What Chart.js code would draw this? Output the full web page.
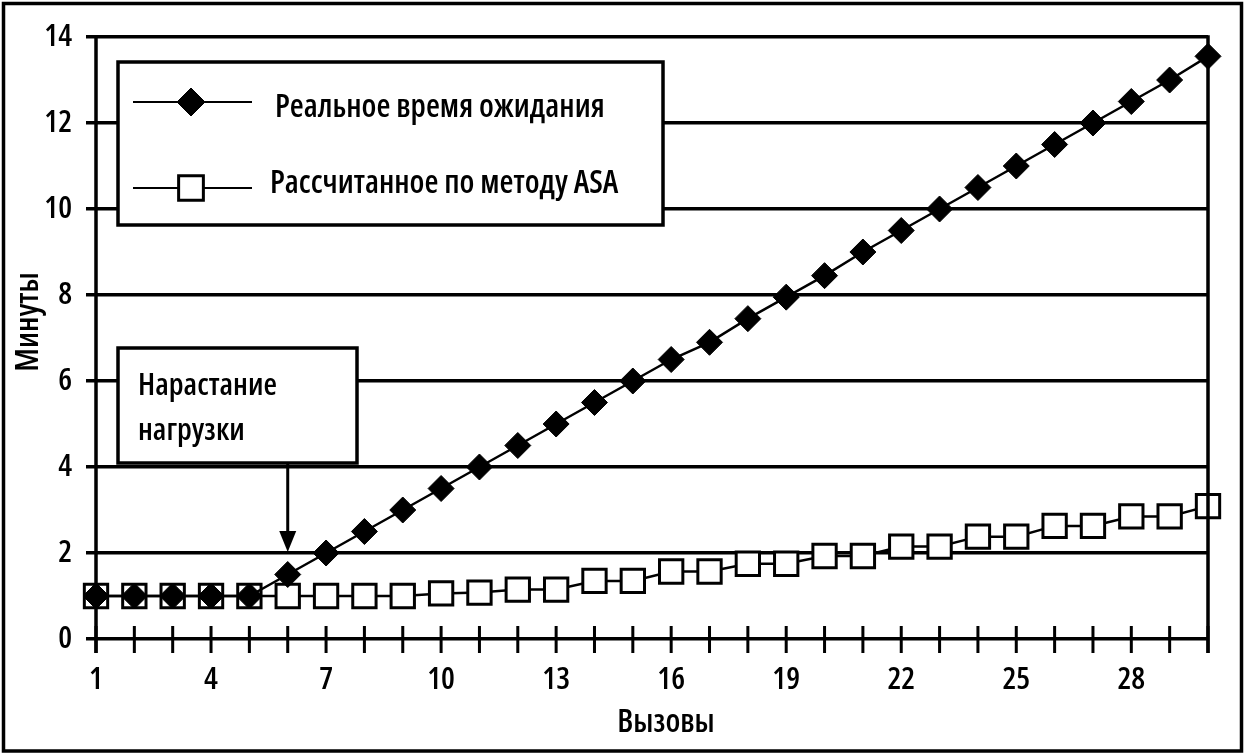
<!DOCTYPE html>
<html>
<head>
<meta charset="utf-8">
<script src="https://cdn.jsdelivr.net/npm/chart.js@4.4.0/dist/chart.umd.min.js"></script>
<style>
  html, body { margin: 0; padding: 0; background: #fff; }
  #wrap { width: 1247px; height: 755px; }
</style>
</head>
<body>
<div id="wrap"><canvas id="waitChart"></canvas></div>
<script>
// ===== Данные =====
const calls = ["1","2","3","4","5","6","7","8","9","10","11","12","13","14","15",
  "16","17","18","19","20","21","22","23","24","25","26","27","28","29","30"];
const realWait = [1, 1, 1, 1, 1, 1.5, 2, 2.5, 3, 3.5, 4, 4.5, 5, 5.5, 6,
  6.5, 6.9, 7.45, 7.95, 8.45, 9, 9.5, 10, 10.5, 11, 11.5, 12, 12.5, 13, 13.55];
const asaWait = [1, 1, 1, 1, 1, 1, 1, 1, 1, 1.06, 1.08, 1.15, 1.15, 1.35, 1.35,
  1.57, 1.57, 1.75, 1.75, 1.93, 1.93, 2.15, 2.15, 2.38, 2.38, 2.63, 2.63, 2.85, 2.85, 3.09];
const yTicks = [0, 2, 4, 6, 8, 10, 12, 14];
const xLabelEvery = 3;

const seriesNames = ["Реальное время ожидания", "Рассчитанное по методу ASA"];
const noteLines = ["Нарастание", "нагрузки"];
const xTitle = "Вызовы";
const yTitle = "Минуты";

const FONT = "'Open Sans', 'Noto Sans', 'DejaVu Sans Condensed', sans-serif";
const WEIGHT = "600 condensed";
const font = (size) => WEIGHT + " " + size + "px " + FONT;

// ===== Рамка, оси, подписи, легенда, выноска =====
const overlay = {
  id: "overlay",
  afterDatasetsDraw(chart) {
    const { ctx, chartArea: a, scales: { x, y } } = chart;
    ctx.save();
    ctx.strokeStyle = "#000";
    ctx.fillStyle = "#000";

    // левая и правая оси
    ctx.lineWidth = 3.5;
    ctx.beginPath();
    ctx.moveTo(a.left, a.top - 1.75);
    ctx.lineTo(a.left, a.bottom + 14);
    ctx.moveTo(a.right, a.top - 1.75);
    ctx.lineTo(a.right, a.bottom + 14);
    ctx.stroke();

    // засечки по X
    ctx.lineWidth = 3;
    ctx.beginPath();
    calls.forEach((c, i) => {
      const px = x.getPixelForValue(i);
      ctx.moveTo(px, a.bottom - 13);
      ctx.lineTo(px, a.bottom + 14);
    });
    ctx.stroke();

    ctx.textBaseline = "alphabetic";

    // названия осей
    ctx.font = font(32);
    ctx.textAlign = "center";
    ctx.fillText(xTitle, 666, 732);
    ctx.save();
    ctx.translate(38, 322);
    ctx.rotate(-Math.PI / 2);
    ctx.fillText(yTitle, 0, 0);
    ctx.restore();

    // легенда
    ctx.textAlign = "left";
    const lg = { x: 118, y: 62, w: 545, h: 163 };
    ctx.fillStyle = "#fff";
    ctx.fillRect(lg.x, lg.y, lg.w, lg.h);
    ctx.lineWidth = 3.5;
    ctx.strokeRect(lg.x, lg.y, lg.w, lg.h);
    const rows = [102, 188];
    const textBase = [117, 193];
    ctx.font = font(32);
    chart.data.datasets.forEach((ds, i) => {
      const ry = rows[i];
      ctx.lineWidth = 2;
      ctx.strokeStyle = "#000";
      ctx.beginPath();
      ctx.moveTo(133, ry);
      ctx.lineTo(252, ry);
      ctx.stroke();
      ctx.fillStyle = ds.pointBackgroundColor;
      ctx.strokeStyle = "#000";
      ctx.lineWidth = ds.pointBorderWidth;
      Chart.helpers.drawPoint(ctx, {
        pointStyle: ds.pointStyle,
        radius: ds.pointRadius + 1,
        borderWidth: ds.pointBorderWidth
      }, 191, ry);
      ctx.fillStyle = "#000";
      ctx.fillText(ds.label, i === 0 ? 275 : 270, textBase[i]);
    });

    // выноска «Нарастание нагрузки»
    const nb = { x: 118, y: 348, w: 239, h: 115 };
    ctx.fillStyle = "#fff";
    ctx.fillRect(nb.x, nb.y, nb.w, nb.h);
    ctx.lineWidth = 3.5;
    ctx.strokeStyle = "#000";
    ctx.strokeRect(nb.x, nb.y, nb.w, nb.h);
    ctx.fillStyle = "#000";
    ctx.font = font(31);
    ctx.fillText(noteLines[0], 138, 395);
    ctx.fillText(noteLines[1], 138, 440);

    // стрелка
    const ax = x.getPixelForValue(5);
    const tip = y.getPixelForValue(2) - 1;
    ctx.lineWidth = 3;
    ctx.beginPath();
    ctx.moveTo(ax, nb.y + nb.h);
    ctx.lineTo(ax, tip - 18);
    ctx.stroke();
    ctx.beginPath();
    ctx.moveTo(ax - 8.5, tip - 21);
    ctx.lineTo(ax + 8.5, tip - 21);
    ctx.lineTo(ax, tip);
    ctx.closePath();
    ctx.fill();

    // внешняя рамка
    ctx.lineWidth = 3.5;
    ctx.strokeRect(3.5, 3.5, 1238, 747.5);
    ctx.restore();
  }
};

// ===== График =====
const tickFont = { family: FONT, size: 31, weight: WEIGHT };
const ctx = document.getElementById("waitChart").getContext("2d");
const waitChart = new Chart(ctx, {
  type: "line",
  data: {
    labels: calls,
    datasets: [
      {
        label: seriesNames[0],
        data: realWait,
        borderColor: "#000",
        borderWidth: 2.5,
        pointStyle: "rectRot",
        pointRadius: 13,
        pointBorderWidth: 1,
        pointBackgroundColor: "#000",
        pointBorderColor: "#000",
        tension: 0
      },
      {
        label: seriesNames[1],
        data: asaWait,
        borderColor: "#000",
        borderWidth: 2.5,
        pointStyle: "rect",
        pointRadius: 16.5,
        pointBorderWidth: 3,
        pointBackgroundColor: "#fff",
        pointBorderColor: "#000",
        tension: 0
      }
    ]
  },
  options: {
    responsive: true,
    maintainAspectRatio: false,
    animation: false,
    devicePixelRatio: 1,
    layout: { padding: { left: 6, top: 37, right: 39, bottom: 0 } },
    plugins: {
      legend: { display: false },
      tooltip: { enabled: false }
    },
    scales: {
      x: {
        offset: false,
        afterFit: (s) => { s.height = 116; },
        grid: { display: false, drawTicks: false },
        border: { display: false },
        ticks: {
          autoSkip: false,
          maxRotation: 0,
          padding: 23,
          color: "#000",
          font: tickFont,
          callback: (v, i) => (i % xLabelEvery === 0 ? calls[i] : "")
        }
      },
      y: {
        min: 0,
        max: 14,
        afterFit: (s) => { s.width = 90; },
        afterBuildTicks: (s) => { s.ticks = yTicks.map((v) => ({ value: v })); },
        grid: { color: "#000", lineWidth: 3.5, tickLength: 10, drawTicks: true },
        border: { display: false },
        ticks: {
          padding: 14,
          color: "#000",
          font: tickFont
        }
      }
    }
  },
  plugins: [overlay]
});
</script>
</body>
</html>
